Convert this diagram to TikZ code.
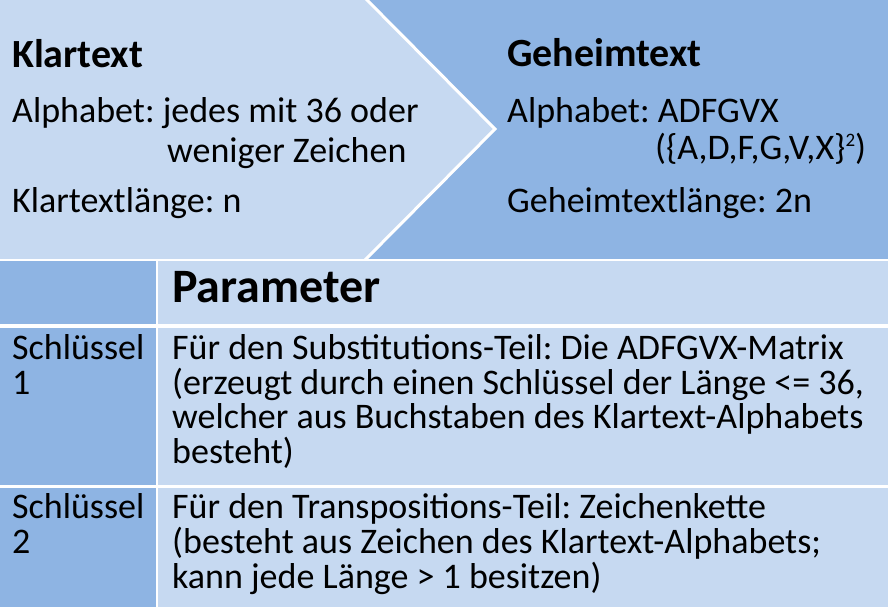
\documentclass[tikz,border=0pt]{standalone}
\usepackage{fontspec}
\setmainfont{Carlito}
\frenchspacing
\definecolor{paleblue}{RGB}{198,217,241}
\definecolor{midblue}{RGB}{142,180,227}
\newcommand{\smallsq}{\raisebox{13pt}{\fontsize{19}{19}\selectfont 2}}
\begin{document}
\begin{tikzpicture}[x=1pt,y=-1pt,
  txt/.style={anchor=base west,inner sep=0pt,font=\fontsize{36}{34.7}\selectfont,align=left},
  head/.style={txt,font=\fontsize{40}{44}\selectfont\bfseries},
  bighead/.style={txt,font=\fontsize{48}{52}\selectfont\bfseries},
  sep/.style={draw=white,line width=3pt}]
\useasboundingbox (0,0) rectangle (888,607);
% top band: plain text on the left, cipher text on the right
\fill[midblue] (0,0) rectangle (888,259);
\fill[paleblue] (0,0) -- (365,0) -- (495,129) -- (365,259) -- (0,259) -- cycle;
\draw[sep] (365,-2) -- (495,129) -- (365,260);
% table
\fill[white] (0,259) rectangle (888,607);
\fill[midblue] (0,261) rectangle (156,324);
\fill[paleblue] (158,261) rectangle (888,324);
\fill[midblue] (0,328) rectangle (156,485);
\fill[paleblue] (158,328) rectangle (888,485);
\fill[midblue] (0,488) rectangle (156,607);
\fill[paleblue] (158,488) rectangle (888,607);
% texts of the top band
\node[head] (kt) at (12,68) {Klartext};
\node[txt] (ktalph) at (12,123) {Alphabet: jedes mit 36 oder};
\node[txt] (ktalph2) at (167,162) {weniger Zeichen};
\node[txt] (ktlen) at (12,212) {Klartextlänge: n};
\node[head] (gt) at (507,67) {Geheimtext};
\node[txt] (gtalph) at (507,123) {Alphabet: ADFGVX};
\node[txt] (gtset) at (655,159) {(\{A,D,F,G,V,X\}\smallsq)};
\node[txt] (gtlen) at (507,212) {Geheimtextlänge: 2n};
% texts of the table
\node[bighead] (par) at (172,302) {Parameter};
\node[txt] (k1) at (12,394.5) {Schlüssel\\1};
\node[txt] (p1) at (172,463.5) {Für den Substitutions-Teil: Die ADFGVX-Matrix\\(erzeugt durch einen Schlüssel der Länge <= 36,\\welcher aus Buchstaben des Klartext-Alphabets\\besteht)};
\node[txt] (k2) at (12,553) {Schlüssel\\2};
\node[txt] (p2) at (172,588) {Für den Transpositions-Teil: Zeichenkette\\(besteht aus Zeichen des Klartext-Alphabets;\\kann jede Länge > 1 besitzen)};
\end{tikzpicture}
\end{document}
